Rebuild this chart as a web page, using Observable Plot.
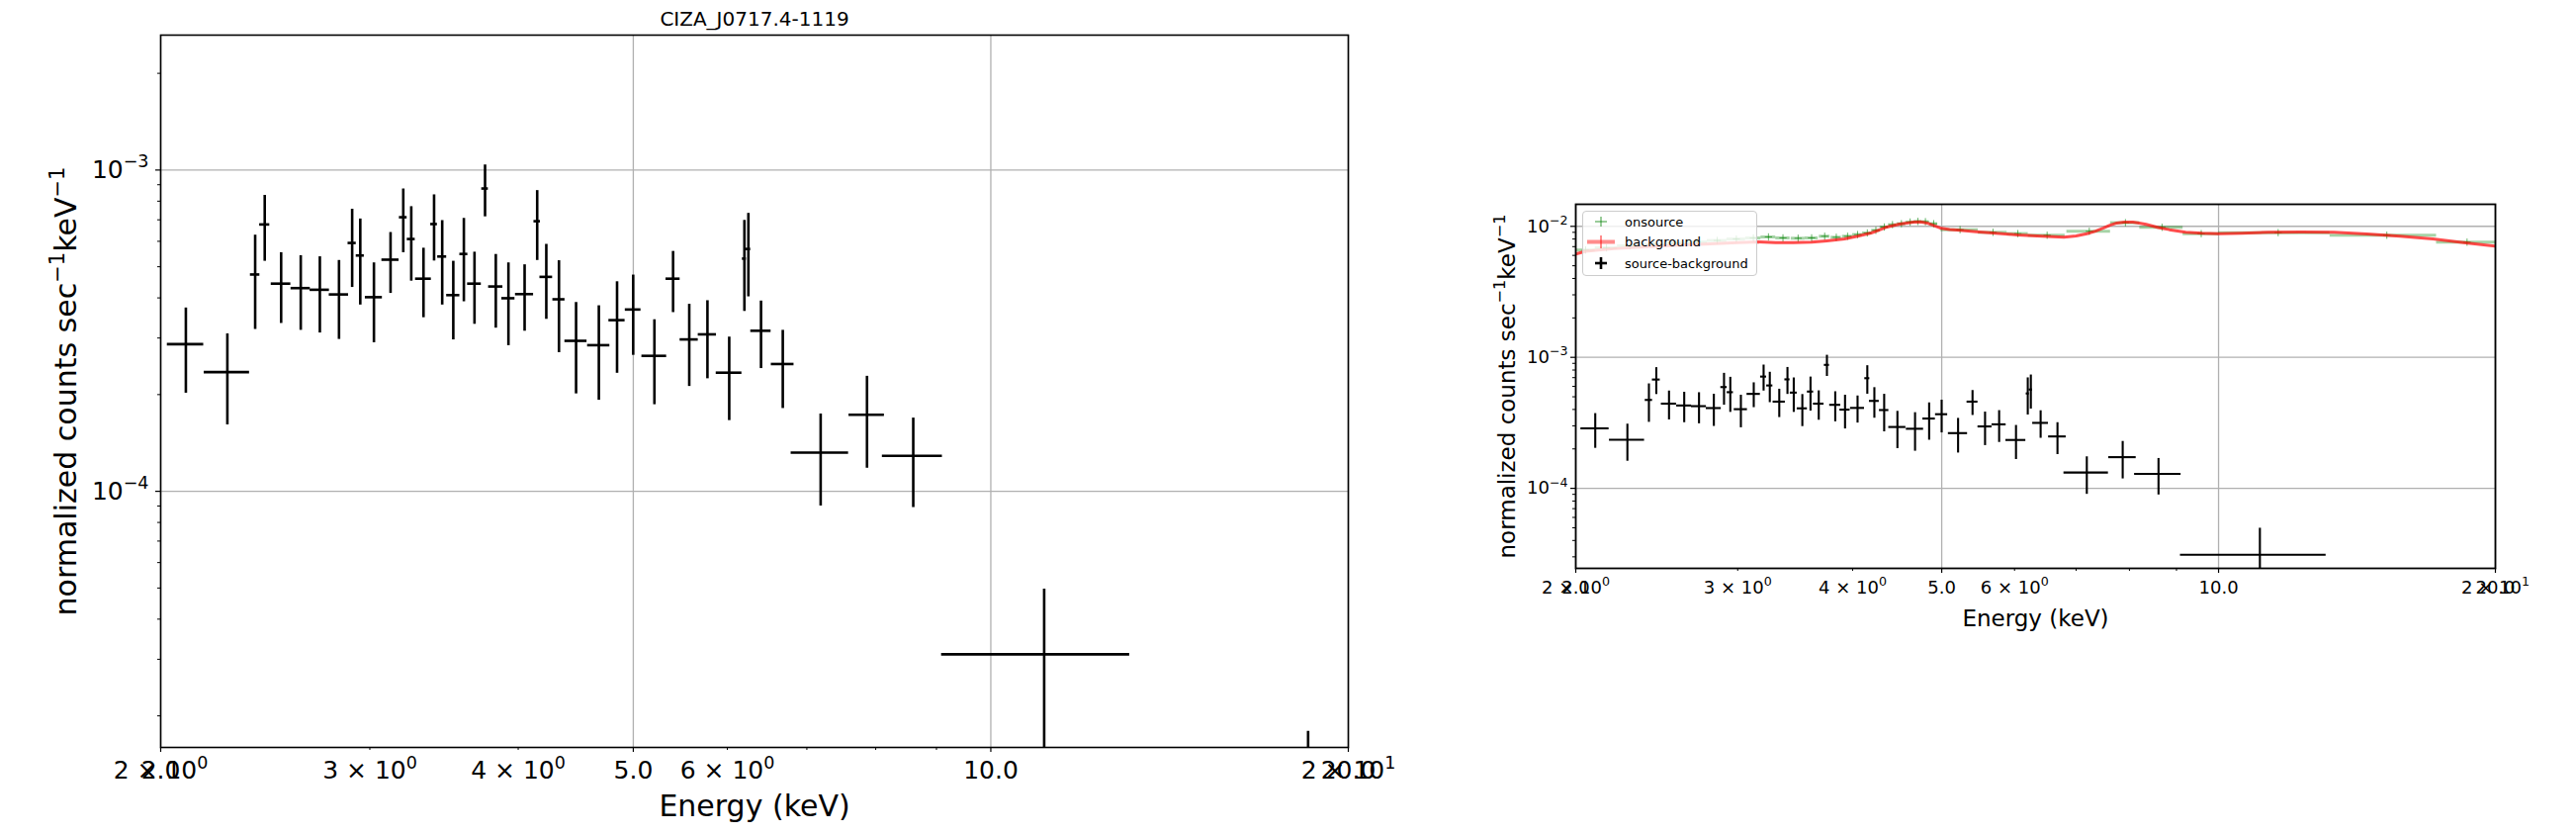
<!DOCTYPE html>
<html><head><meta charset="utf-8">
<script src="https://cdn.jsdelivr.net/npm/d3@7"></script>
<script src="https://cdn.jsdelivr.net/npm/@observablehq/plot@0.6"></script>
<style>
html,body{margin:0;padding:0;background:#fff;}
#fig{position:relative;width:2605px;height:843px;background:#fff;font-family:"DejaVu Sans",sans-serif;overflow:hidden;}
#legend{position:absolute;left:1600px;top:213px;width:177px;height:66px;box-sizing:border-box;border:1px solid #cccccc;border-radius:4px;background:rgba(255,255,255,0.8);}
</style></head><body><div id="fig"></div>
<script>
// ---------- data: source-background (keV, half-width, rate, rate error) ----------
const energy = [2.100,2.276,2.402,2.447,2.526,2.624,2.723,2.826,2.899,2.945,3.024,3.123,3.201,3.251,3.329,3.398,3.452,3.527,3.600,3.675,3.751,3.830,3.925,4.050,4.150,4.224,4.329,4.475,4.677,4.845,4.999,5.209,5.401,5.573,5.773,6.022,6.202,6.250,6.405,6.681,7.19,7.866,8.604,11.09,18.5];
const energyErr = [0.074,0.100,0.022,0.024,0.048,0.049,0.051,0.053,0.023,0.023,0.050,0.052,0.024,0.025,0.051,0.022,0.030,0.045,0.028,0.049,0.024,0.053,0.050,0.071,0.026,0.052,0.051,0.096,0.101,0.076,0.076,0.125,0.074,0.098,0.102,0.150,0.024,0.028,0.126,0.147,0.40,0.27,0.50,2.0,5.4];
const rate = [2.87e-4,2.35e-4,4.73e-4,6.77e-4,4.43e-4,4.29e-4,4.24e-4,4.10e-4,5.93e-4,5.42e-4,4.02e-4,5.26e-4,7.13e-4,6.10e-4,4.59e-4,6.79e-4,5.38e-4,4.08e-4,5.48e-4,4.43e-4,8.76e-4,4.34e-4,3.99e-4,4.11e-4,6.93e-4,4.65e-4,3.96e-4,2.94e-4,2.85e-4,3.41e-4,3.68e-4,2.64e-4,4.59e-4,2.97e-4,3.08e-4,2.34e-4,5.30e-4,5.68e-4,3.16e-4,2.49e-4,1.32e-4,1.73e-4,1.29e-4,3.11e-5,9.0e-6];
const rateErr = [0.85e-4,0.74e-4,1.54e-4,1.57e-4,1.10e-4,1.12e-4,1.13e-4,1.13e-4,1.62e-4,1.62e-4,1.12e-4,1.13e-4,1.60e-4,1.59e-4,1.12e-4,1.58e-4,1.58e-4,1.12e-4,1.59e-4,1.12e-4,1.61e-4,1.12e-4,1.15e-4,0.96e-4,1.70e-4,1.22e-4,1.26e-4,0.93e-4,0.93e-4,1.08e-4,1.03e-4,0.78e-4,0.99e-4,0.85e-4,0.84e-4,0.68e-4,1.67e-4,1.65e-4,0.75e-4,0.68e-4,0.42e-4,0.55e-4,0.40e-4,1.85e-5,8.9e-6];

// ---------- data: onsource spectrum ----------
const onE = [2.05,2.16,2.29,2.43,2.57,2.71,2.85,2.99,3.12,3.24,3.36,3.49,3.61,3.73,3.84,3.95,4.05,4.15,4.24,4.33,4.42,4.52,4.62,4.71,4.80,4.90,5.235,5.685,6.05,6.51,7.235,7.92,8.68,9.575,11.61,15.24,18.63];
const onErr = [0.05,0.06,0.07,0.07,0.07,0.07,0.07,0.07,0.06,0.06,0.06,0.06,0.06,0.05,0.05,0.05,0.05,0.05,0.045,0.045,0.045,0.05,0.05,0.045,0.045,0.05,0.245,0.205,0.16,0.30,0.395,0.29,0.47,0.425,1.61,2.02,1.37];
const onV = [6.6e-3,6.85e-3,7.1e-3,7.3e-3,7.45e-3,7.6e-3,7.8e-3,8.0e-3,8.15e-3,8.30e-3,8.16e-3,8.11e-3,8.16e-3,8.40e-3,8.25e-3,8.40e-3,8.65e-3,8.90e-3,9.32e-3,9.88e-3,1.029e-2,1.047e-2,1.078e-2,1.09e-2,1.085e-2,1.047e-2,9.43e-3,9.0e-3,8.8e-3,8.55e-3,9.17e-3,1.066e-2,9.83e-3,8.79e-3,8.95e-3,8.55e-3,7.57e-3];

// ---------- data: background spectrum ----------
const bgE = [2.00,2.05,2.20,2.40,2.60,2.80,3.00,3.16,3.30,3.45,3.61,3.75,3.92,4.05,4.19,4.28,4.36,4.50,4.66,4.74,4.82,4.98,5.10,5.23,5.45,5.68,6.05,6.43,6.79,7.00,7.19,7.35,7.50,7.62,7.75,7.90,8.07,8.20,8.34,8.60,8.84,9.21,9.60,10.0,10.6,11.32,12.3,13.35,14.5,15.75,17.10,18.57,20.0];
const bgV = [6.15e-3,6.45e-3,6.75e-3,7.0e-3,7.2e-3,7.35e-3,7.5e-3,7.6e-3,7.5e-3,7.5e-3,7.57e-3,7.75e-3,8.02e-3,8.4e-3,8.9e-3,9.4e-3,9.88e-3,1.04e-2,1.078e-2,1.08e-2,1.06e-2,9.71e-3,9.45e-3,9.33e-3,9.1e-3,8.9e-3,8.6e-3,8.4e-3,8.26e-3,8.45e-3,8.79e-3,9.2e-3,9.71e-3,1.02e-2,1.06e-2,1.075e-2,1.078e-2,1.06e-2,1.035e-2,9.8e-3,9.43e-3,9.0e-3,8.85e-3,8.79e-3,8.85e-3,9.0e-3,9.05e-3,9.0e-3,8.75e-3,8.40e-3,8.02e-3,7.48e-3,7.06e-3];

// ---------- ticks & labels ----------
const xMajorTicks = [2,5,10,20];
const xMinorLabeled = [2,3,4,6,20];
const xMinorOnly = [7,8,9];
const mantissas = [2,3,4,5,6,7,8,9];
const decades = [1e-5,1e-4,1e-3,1e-2];
const titleText = "CIZA_J0717.4-1119";
const xLabelText = "Energy (keV)";
const yLabelText = "normalized counts sec^{\u22121}keV^{\u22121}";
const legendLabels = ["onsource","background","source-background"];

const sb = energy.map((e,i)=>({e, xe: energyErr[i], v: rate[i], ye: rateErr[i]}));
const on = onE.map((e,i)=>({e, xe: onErr[i], v: onV[i]}));
const bg = bgE.map((e,i)=>({e, v: bgV[i]}));

const sciLabel = d => { const ex = Math.floor(Math.log10(d) + 1e-9); const m = Math.round(d / Math.pow(10, ex)); return `${m} × 10^{${ex}}`; };
const powLabel = d => { const ex = Math.round(Math.log10(d)); return `10^{${ex < 0 ? "\u2212" + (-ex) : ex}}`; };

function supify(root) {
  root.querySelectorAll("text").forEach(el => {
    const s = el.textContent;
    if (!s.includes("^{")) return;
    const fs = parseFloat(getComputedStyle(el).fontSize) || 16;
    while (el.firstChild) el.removeChild(el.firstChild);
    const parts = s.split(/(\^\{[^}]*\})/);
    const shift = 0.42 * fs;
    let raised = false;
    for (const p of parts) {
      if (!p) continue;
      const t = document.createElementNS("http://www.w3.org/2000/svg", "tspan");
      if (p.startsWith("^{")) {
        t.textContent = p.slice(2, -1);
        t.setAttribute("font-size", (0.7 * fs).toFixed(2));
        t.setAttribute("dy", (-shift).toFixed(2));
        raised = true;
      } else {
        t.textContent = p;
        if (raised) { t.setAttribute("dy", shift.toFixed(2)); raised = false; }
      }
      el.appendChild(t);
    }
  });
}

function panel(cfg) {
  const yMinor = [];
  for (const dd of decades) for (const m of mantissas) { const t = m * dd; if (t > cfg.yDomain[0] && t < cfg.yDomain[1]) yMinor.push(t); }
  const yMajor = decades.filter(t => t > cfg.yDomain[0] && t < cfg.yDomain[1]);
  const gridStyle = {stroke: "#b0b0b0", strokeOpacity: 1, strokeWidth: 1.3};
  const marks = [
    Plot.gridX({ticks: xMajorTicks, ...gridStyle}),
    Plot.gridY({ticks: yMajor, ...gridStyle}),
    ...cfg.dataMarks,
    Plot.ruleY(sb, {y: "v", x1: d => d.e - d.xe, x2: d => d.e + d.xe, stroke: "#000", strokeWidth: cfg.sw, clip: true}),
    Plot.ruleX(sb, {x: "e", y1: d => d.v - d.ye, y2: d => d.v + d.ye, stroke: "#000", strokeWidth: cfg.sw, clip: true}),
    Plot.frame({stroke: "#000", strokeWidth: cfg.spine}),
    Plot.axisX({ticks: xMajorTicks, tickFormat: d => d.toFixed(1), tickSize: 5, tickPadding: cfg.xpad, fontSize: cfg.tfs, label: null, strokeWidth: 1.2}),
    Plot.axisX({ticks: xMinorLabeled, tickFormat: sciLabel, tickSize: 3, tickPadding: cfg.xpad + 2, fontSize: cfg.tfs, label: null, strokeWidth: 1}),
    Plot.axisX({ticks: xMinorOnly, tickFormat: () => "", tickSize: 3, label: null, strokeWidth: 1}),
    Plot.axisY({ticks: yMajor, tickFormat: powLabel, tickSize: 5, tickPadding: cfg.ypad, fontSize: cfg.tfs, label: null, strokeWidth: 1.2}),
    Plot.axisY({ticks: yMinor, tickFormat: () => "", tickSize: 3, label: null, strokeWidth: 1}),
    Plot.text([yLabelText], {text: d => d, frameAnchor: "left", textAnchor: "middle", lineAnchor: "middle", rotate: -90, dx: cfg.ylabDx, fontSize: cfg.lfs}),
    Plot.text([xLabelText], {text: d => d, frameAnchor: "bottom", textAnchor: "middle", lineAnchor: "middle", dy: cfg.xlabDy, fontSize: cfg.lfs})
  ];
  if (cfg.title) marks.push(Plot.text([cfg.title], {text: d => d, frameAnchor: "top", textAnchor: "middle", lineAnchor: "middle", dy: -16, fontSize: 20}));
  const svg = Plot.plot({
    width: cfg.W, height: cfg.H,
    marginLeft: cfg.mL, marginRight: cfg.mR, marginTop: cfg.mT, marginBottom: cfg.mB,
    x: {type: "log", domain: [2, 20]},
    y: {type: "log", domain: cfg.yDomain},
    style: {background: "transparent", color: "#000", fontFamily: "'DejaVu Sans', sans-serif", overflow: "visible"},
    marks
  });
  svg.style.position = "absolute";
  svg.style.left = cfg.left + "px";
  svg.style.top = "0px";
  return svg;
}

const fig = document.getElementById("fig");

const left = panel({
  left: 0, W: 1400, H: 843, mL: 162, mR: 37, mT: 35, mB: 88,
  yDomain: [1.595e-5, 2.63e-3], sw: 2.6, spine: 1.6, tfs: 25, lfs: 30,
  xpad: 9, ypad: 7, ylabDx: -95, xlabDy: 60, title: titleText, dataMarks: []
});
fig.appendChild(left);

const right = panel({
  left: 1400, W: 1205, H: 843, mL: 193, mR: 82, mT: 206, mB: 269,
  yDomain: [2.45e-5, 1.473e-2], sw: 2.1, spine: 1.8, tfs: 18, lfs: 23,
  xpad: 7.5, ypad: 3, ylabDx: -69, xlabDy: 51, title: null,
  dataMarks: [
    Plot.ruleY(on, {y: "v", x1: d => d.e - d.xe, x2: d => d.e + d.xe, stroke: "#008000", strokeOpacity: 0.35, strokeWidth: 3, clip: true}),
    Plot.dot(on, {x: "e", y: "v", symbol: "plus", r: 2.5, stroke: "#008000", strokeOpacity: 0.6, strokeWidth: 1, clip: true}),
    Plot.line(bg, {x: "e", y: "v", stroke: "#ff0000", strokeOpacity: 0.7, strokeWidth: 3, clip: true})
  ]
});
fig.appendChild(right);

supify(left);
supify(right);

// legend (upper-left of right panel)
const lg = document.createElement("div");
lg.id = "legend";
lg.innerHTML = `<svg width="177" height="66" style="position:absolute;left:-1px;top:-1px;overflow:visible;font-family:'DejaVu Sans',sans-serif">
  <line x1="13" x2="25" y1="11" y2="11" stroke="#008000" stroke-opacity="0.4" stroke-width="2"/>
  <line x1="19" x2="19" y1="6" y2="16" stroke="#008000" stroke-opacity="0.4" stroke-width="2"/>
  <line x1="5" x2="33" y1="31.5" y2="31.5" stroke="#ff0000" stroke-opacity="0.45" stroke-width="4"/>
  <line x1="19" x2="19" y1="25" y2="38" stroke="#ff0000" stroke-opacity="0.45" stroke-width="2"/>
  <line x1="13" x2="25" y1="53" y2="53" stroke="#000" stroke-width="2.6"/>
  <line x1="19" x2="19" y1="47" y2="59" stroke="#000" stroke-width="2.6"/>
  <text x="43" y="11" dy="0.35em" font-size="13">${legendLabels[0]}</text>
  <text x="43" y="31.5" dy="0.35em" font-size="13">${legendLabels[1]}</text>
  <text x="43" y="53" dy="0.35em" font-size="13">${legendLabels[2]}</text>
</svg>`;
fig.appendChild(lg);
</script></body></html>
